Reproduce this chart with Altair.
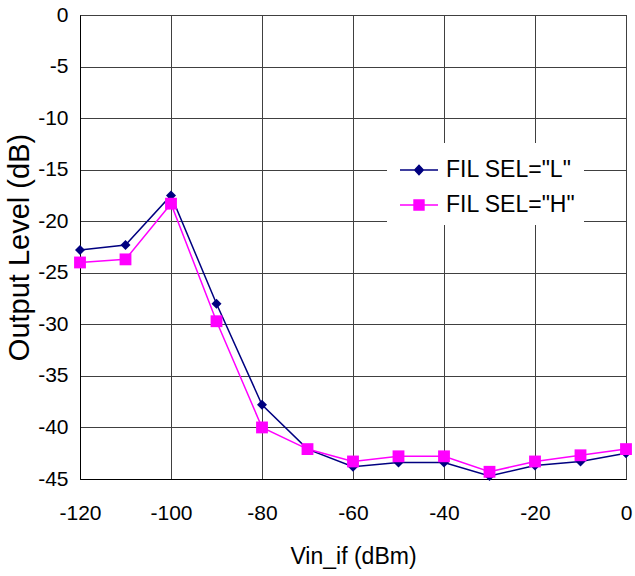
import altair as alt
import pandas as pd

# ---- data ----
vin_if = [-120, -110, -100, -90, -80, -70, -60, -50, -40, -30, -20, -10, 0]
fil_l = [-22.8, -22.3, -17.5, -28.0, -37.8, -42.1, -43.8, -43.4, -43.4, -44.7, -43.7, -43.3, -42.5]
fil_h = [-24.0, -23.7, -18.3, -29.7, -40.0, -42.1, -43.3, -42.8, -42.8, -44.3, -43.3, -42.7, -42.1]
series_names = ['FIL SEL="L"', 'FIL SEL="H"']
series_colors = ["#000080", "#ff00ff"]
x_ticks = [-120, -100, -80, -60, -40, -20, 0]
y_ticks = [-45, -40, -35, -30, -25, -20, -15, -10, -5, 0]

rows = []
for name, vals in zip(series_names, [fil_l, fil_h]):
    for x, v in zip(vin_if, vals):
        rows.append({"series": name, "vin": x, "level": v})
df = pd.DataFrame(rows)

FONT = "Liberation Sans, Arial"

# legend symbols: line segment + marker (custom paths in the [-1,1] box)
leg_L = "M-1,-0.04L1,-0.04L1,0.04L-1,0.04Z M0,-0.3L0.28,0L0,0.3L-0.28,0Z"
leg_H = "M-1,-0.04L1,-0.04L1,0.04L-1,0.04Z M-0.3,-0.3L0.3,-0.3L0.3,0.3L-0.3,0.3Z"

x_enc = alt.X(
    "vin:Q",
    scale=alt.Scale(domain=[-120, 0], nice=False, zero=False),
    axis=alt.Axis(
        values=x_ticks, ticks=False, tickSize=0, labelPadding=23, labelFlush=False,
        labelOverlap=False, labelFont=FONT, labelFontSize=21, labelColor="black",
        labelExpr="'' + datum.value",
        title="Vin_if (dBm)", titleFont=FONT, titleFontSize=23, titleFontWeight="normal",
        titleColor="black", titleY=84, titleBaseline="alphabetic",
        domain=True, domainColor="black", grid=True, gridColor="#404040", gridWidth=1,
    ),
)
y_enc = alt.Y(
    "level:Q",
    scale=alt.Scale(domain=[-45, 0], nice=False, zero=False),
    axis=alt.Axis(
        values=y_ticks, ticks=False, tickSize=0, labelPadding=12, labelFlush=False,
        labelOverlap=False, labelFont=FONT, labelFontSize=21, labelColor="black",
        labelExpr="'' + datum.value",
        title="Output Level (dB)", titleFont=FONT, titleFontSize=29, titleFontWeight="normal",
        titleColor="black", titleX=-52, titleBaseline="alphabetic", titleAngle=-90,
        domain=True, domainColor="black", grid=True, gridColor="#404040", gridWidth=1,
    ),
)

color_scale = alt.Scale(domain=series_names, range=series_colors)

lines = alt.Chart(df).mark_line(strokeWidth=1.5).encode(
    x=x_enc, y=y_enc,
    color=alt.Color("series:N", scale=color_scale, legend=None),
    order=alt.Order("vin:Q"),
)

points = alt.Chart(df).mark_point(filled=True, opacity=1).encode(
    x=x_enc, y=y_enc,
    color=alt.Color("series:N", scale=color_scale, legend=None),
    shape=alt.Shape("series:N", scale=alt.Scale(domain=series_names, range=["diamond", "square"]), legend=None),
    size=alt.Size("series:N", scale=alt.Scale(domain=series_names, range=[100, 140]), legend=None),
)

legend_def = alt.Legend(
    title=None, orient="none", legendX=307, legendY=128, padding=8,
    symbolSize=1444, symbolOffset=5, labelOffset=8, rowPadding=4,
    fillColor="white", labelFont=FONT, labelFontSize=23, labelColor="black",
    symbolStrokeWidth=0, symbolOpacity=1, labelLimit=0,
)

legend_carrier = alt.Chart(df).mark_point(filled=True, opacity=0).encode(
    x=x_enc, y=y_enc,
    color=alt.Color("series:N", scale=color_scale, legend=legend_def),
    shape=alt.Shape("series:N", scale=alt.Scale(domain=series_names, range=[leg_L, leg_H]), legend=legend_def),
)

chart = (
    alt.layer(lines, points, legend_carrier)
    .resolve_scale(color="independent", shape="independent")
    .properties(
        width=546, height=464, autosize="none",
        padding={"left": 80, "top": 15, "right": 9, "bottom": 97},
        background="white",
    )
    .configure_view(stroke="black", strokeWidth=1)
)

chart.save("out.html", embed_options={"renderer": "svg", "actions": False})
